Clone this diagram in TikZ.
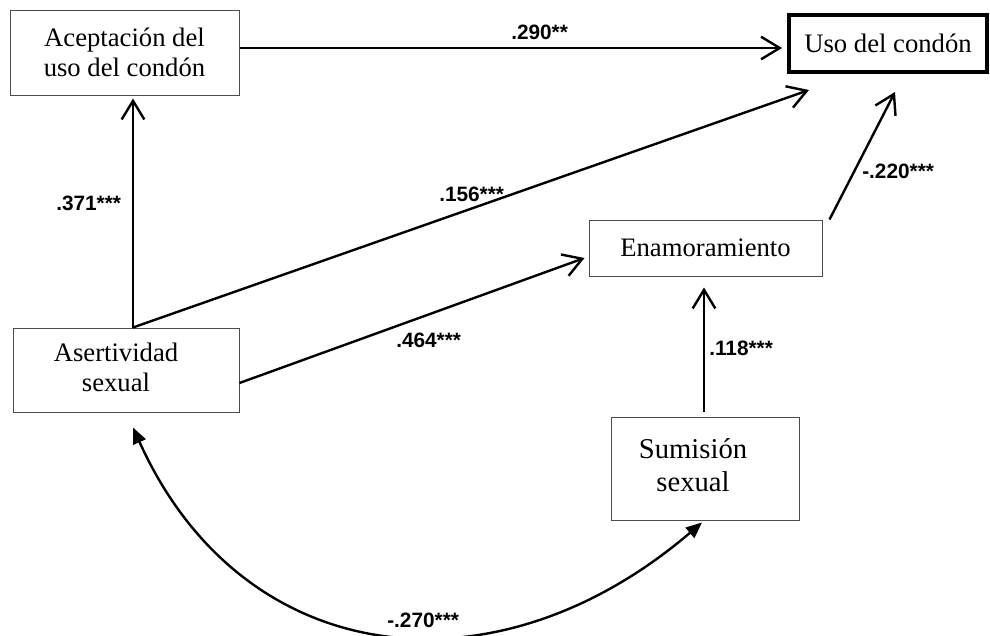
\documentclass[tikz,border=0pt]{standalone}
\usepackage{fontspec}
\setmainfont{Liberation Serif}
\newfontfamily\labfont{Liberation Sans}
\usetikzlibrary{arrows.meta,calc}
\begin{document}
\begin{tikzpicture}[x=0.75pt,y=-0.75pt,
  box/.style={draw=black!70, line width=0.75pt, align=center, inner sep=0pt,
    font=\fontsize{20pt}{22.5pt}\selectfont},
  bigbox/.style={box, font=\fontsize{21.5pt}{24.75pt}\selectfont},
  arr/.style={line width=1.8pt, -{Straight Barb[length=14pt,width=17pt,line width=1.8pt]}},
  dbl/.style={line width=1.8pt, {Triangle[length=12pt,width=10pt]}-{Triangle[length=12pt,width=10pt]}},
  lab/.style={font=\labfont\bfseries\fontsize{15.6pt}{18pt}\selectfont, inner sep=0pt, anchor=base west}]
\useasboundingbox (0,0) rectangle (990,636);

% boxes
\node[box, minimum width=171.75pt, minimum height=63.75pt] (acep) at (124.5,52.5) {Aceptación del\\uso del condón};
\node[box, draw=black, line width=3pt, minimum width=148.5pt, minimum height=42.75pt] (uso) at (888,43.5) {Uso del condón};
\node[box, minimum width=174.75pt, minimum height=42pt] (enam) at (705.5,248) {Enamoramiento};
\node[box, minimum width=169.5pt, minimum height=63pt] (asert) at (126,370)
  {\begin{tabular}{@{}c@{}}Asertividad\\sexual\end{tabular}\hspace*{15pt}};
\node[bigbox, minimum width=141pt, minimum height=77.25pt] (sumis) at (705,468.5)
  {\begin{tabular}{@{}c@{}}Sumisión\\sexual\end{tabular}\hspace*{18pt}};

% helper coordinates
\coordinate (asTop) at ($(asert.north)+(7,0)$);
\coordinate (t156) at ($(uso.south west)+(22,16)$);

% connectors
\draw[arr] ($(acep.east)+(0,-4.5)$) -- ($(uso.west)+(-5,4.5)$);
\draw[arr] (asTop) -- ($(asTop |- acep.south)+(0,3)$);
\draw[arr] (asTop) -- (t156);
\draw[arr] ($(asert.east)+(0,13)$) -- ($(enam.west)+(-4,10)$);
\draw[arr] ($(enam.north east)+(7,0)$) -- ($(uso.south)+(7,18)$);
\draw[arr] ($(sumis.north)+(-1,-5)$) -- ($(enam.south)+(-1.5,11)$);
\draw[dbl] ($(asert.south)+(7,15)$) .. controls +(109,242) and +(-208,178) .. ($(sumis.south)+(-3,2)$);

% labels
\node[lab] (l290) at (511,39) {.290**};
\node[lab] (l371) at (56,210) {.371***};
\node[lab] (l156) at (439,201) {.156***};
\node[lab] (l464) at (396,347) {.464***};
\node[lab] (l118) at (709,355) {.118***};
\node[lab] (l220) at (862,178) {-.220***};
\node[lab] (l270) at (387,627) {-.270***};
\end{tikzpicture}
\end{document}
